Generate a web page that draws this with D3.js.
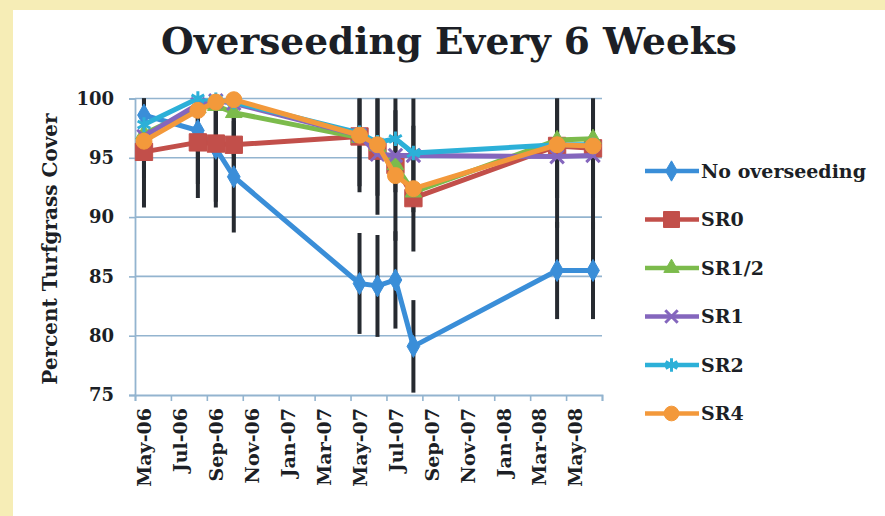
<!DOCTYPE html>
<html>
<head>
<meta charset="utf-8">
<script src="https://cdn.jsdelivr.net/npm/d3@7"></script>
<style>
  html, body { margin: 0; padding: 0; background: #ffffff; }
  svg { display: block; }
  text { font-family: "DejaVu Serif", serif; font-weight: bold; fill: #1c1f26; }
</style>
</head>
<body>
<svg id="chart" width="885" height="516"></svg>
<script>
// ---------- data ----------
const dates = ["2006-05", "2006-08", "2006-09", "2006-10", "2007-05", "2007-06", "2007-07", "2007-08", "2008-04", "2008-06"];
const seriesNames = ["No overseeding", "SR0", "SR1/2", "SR1", "SR2", "SR4"];
const noOverseeding = [98.6, 97.3, 95.8, 93.4, 84.4, 84.2, 84.7, 79.1, 85.5, 85.5];
const sr0  = [95.5, 96.3, 96.2, 96.1, 96.8, 95.6, 94.4, 91.6, 96.0, 95.8];
const sr12 = [97.0, 99.2, 99.4, 98.8, 96.7, 96.0, 94.4, 92.1, 96.5, 96.6];
const sr1  = [96.8, 99.5, 99.8, 99.6, 96.9, 95.3, 95.2, 95.2, 95.1, 95.2];
const sr2  = [97.8, 100.0, 99.9, 99.7, 97.1, 96.3, 96.6, 95.4, 96.1, 96.1];
const sr4  = [96.4, 99.0, 99.7, 99.9, 96.9, 96.1, 93.5, 92.4, 96.1, 96.0];
const errNoOverseeding = [4.5, 4.5, 4.5, 4.7, 4.25, 4.3, 4.1, 3.9, 4.1, 4.1];
const errSR2 = [4.5, 4.5, 4.5, 4.5, 4.5, 4.5, 4.5, 5.0, 4.5, 4.5];
const errSR4 = [5.6, 7.4, 8.9, 6.0, 4.8, 5.9, 5.5, 5.3, 7.0, 7.0];
const xLabels = ["May-06", "Jul-06", "Sep-06", "Nov-06", "Jan-07", "Mar-07", "May-07", "Jul-07", "Sep-07", "Nov-07", "Jan-08", "Mar-08", "May-08"];
const yTicks = [75, 80, 85, 90, 95, 100];
const title = "Overseeding Every 6 Weeks";
const yTitle = "Percent Turfgrass Cover";

// ---------- styles ----------
const colors = ["#3a8ed8", "#c24f4a", "#7cbb4c", "#8466bd", "#2cb0d8", "#f3993b"];
const markers = ["diamond", "square", "triangle", "x", "asterisk", "circle"];
const seriesValues = [noOverseeding, sr0, sr12, sr1, sr2, sr4];
const seriesErr = [errNoOverseeding, null, null, null, errSR2, errSR4];

const svg = d3.select("#chart");
const W = 885, H = 516;
const plot = { left: 135, right: 602, top: 98.5, bottom: 395 };

// page frame
svg.append("rect").attr("x", 0).attr("y", 0).attr("width", W).attr("height", H).attr("fill", "#ffffff");
svg.append("rect").attr("x", 0).attr("y", 0).attr("width", W).attr("height", 10).attr("fill", "#f6edb6");
svg.append("rect").attr("x", 0).attr("y", 0).attr("width", 13).attr("height", H).attr("fill", "#f6edb6");

// month index helper: months since May 2006
const monthIndex = s => { const [yy, mm] = s.split("-").map(Number); return (yy - 2006) * 12 + (mm - 5); };
const nMonths = 26;

const x = d3.scaleLinear().domain([0, nMonths]).range([plot.left, plot.right]);
const y = d3.scaleLinear().domain([75, 100]).range([plot.bottom, plot.top]);
const px = i => x(monthIndex(dates[i]) + 0.5);

const gridColor = "#93b4cf";

// gridlines
svg.append("g").selectAll("line").data(yTicks.filter(v => v !== 75)).join("line")
  .attr("x1", plot.left).attr("x2", plot.right)
  .attr("y1", d => y(d)).attr("y2", d => y(d))
  .attr("stroke", gridColor).attr("stroke-width", 1.6);

// y axis
const yAxis = svg.append("g").attr("transform", `translate(${plot.left},0)`)
  .call(d3.axisLeft(y).tickValues(yTicks).tickSize(6).tickPadding(15));
yAxis.select(".domain").attr("stroke", gridColor).attr("stroke-width", 1.8);
yAxis.selectAll(".tick line").attr("stroke", gridColor).attr("stroke-width", 1.6);
yAxis.selectAll("text").attr("font-size", 18).attr("font-family", "DejaVu Serif").attr("font-weight", "bold").attr("fill", "#1c1f26");

// x axis ticks (slot boundaries every 2 months)
const xAxis = svg.append("g").attr("transform", `translate(0,${plot.bottom})`)
  .call(d3.axisBottom(x).tickValues(d3.range(0, nMonths + 1, 2)).tickSize(6).tickFormat(""));
xAxis.select(".domain").attr("stroke", gridColor).attr("stroke-width", 1.8);
xAxis.selectAll(".tick line").attr("stroke", gridColor).attr("stroke-width", 1.6);

// x labels (centered in month slots)
const xLab = svg.append("g").attr("transform", `translate(0,${plot.bottom})`)
  .call(d3.axisBottom(x).tickValues(xLabels.map((d, i) => i * 2 + 0.5)).tickSize(0).tickFormat((d, i) => xLabels[i]));
xLab.select(".domain").remove();
xLab.selectAll("text")
  .attr("font-size", 19).attr("font-family", "DejaVu Serif").attr("font-weight", "bold").attr("fill", "#1c1f26")
  .attr("text-anchor", "end")
  .attr("transform", "rotate(-90)")
  .attr("x", -13).attr("y", 0).attr("dy", "0.36em");

// clip
svg.append("clipPath").attr("id", "plotclip").append("rect")
  .attr("x", plot.left - 10).attr("y", plot.top).attr("width", plot.right - plot.left + 20).attr("height", plot.bottom - plot.top);

// error bars
const eb = svg.append("g").attr("clip-path", "url(#plotclip)");
seriesValues.forEach((vals, si) => {
  const err = seriesErr[si];
  if (!err) return;
  eb.append("g").selectAll("line").data(vals).join("line")
    .attr("x1", (d, i) => px(i)).attr("x2", (d, i) => px(i))
    .attr("y1", (d, i) => y(d + err[i])).attr("y2", (d, i) => y(d - err[i]))
    .attr("stroke", "#262a30").attr("stroke-width", 4);
});

// marker drawing
function drawMarker(g, type, color, cx, cy, scale = 1) {
  let sym, filled = true, size;
  switch (type) {
    case "diamond": sym = d3.symbolDiamond; size = 140; break;
    case "square": sym = d3.symbolSquare; size = 300; break;
    case "triangle": sym = d3.symbolTriangle; size = 120; break;
    case "circle": sym = d3.symbolCircle; size = 200; break;
    case "x": sym = d3.symbolX; size = 120; filled = false; break;
    case "asterisk": sym = d3.symbolAsterisk; size = 150; filled = false; break;
  }
  const p = g.append("path")
    .attr("d", d3.symbol(sym, size * scale)())
    .attr("transform", `translate(${cx},${cy})`);
  if (filled) p.attr("fill", color).attr("stroke", color).attr("stroke-width", 1);
  else p.attr("fill", "none").attr("stroke", color).attr("stroke-width", 3);
}

const line = d3.line().x((d, i) => px(i)).y(d => y(d));

seriesValues.forEach((vals, si) => {
  const g = svg.append("g");
  g.append("path").datum(vals).attr("d", line)
    .attr("fill", "none").attr("stroke", colors[si]).attr("stroke-width", 5)
    .attr("stroke-linejoin", "round").attr("stroke-linecap", "round")
    .attr("clip-path", "url(#plotclip)");
  vals.forEach((v, i) => drawMarker(g, markers[si], colors[si], px(i), y(v)));
});

// legend
const legend = svg.append("g");
seriesNames.forEach((name, si) => {
  const ly = 171 + si * 48.5;
  legend.append("line").attr("x1", 645).attr("x2", 699).attr("y1", ly).attr("y2", ly)
    .attr("stroke", colors[si]).attr("stroke-width", 4.5);
  drawMarker(legend, markers[si], colors[si], 671.5, ly, 0.85);
  legend.append("text").attr("x", 701).attr("y", ly).attr("dy", "0.36em")
    .attr("font-size", 19).text(name);
});

// title
svg.append("text").attr("x", 449).attr("y", 54).attr("text-anchor", "middle")
  .attr("font-size", 37.5).attr("fill", "#111316").text(title);

// y title
svg.append("text").attr("transform", "translate(57,249) rotate(-90)")
  .attr("text-anchor", "middle").attr("font-size", 20).text(yTitle);
</script>
</body>
</html>
